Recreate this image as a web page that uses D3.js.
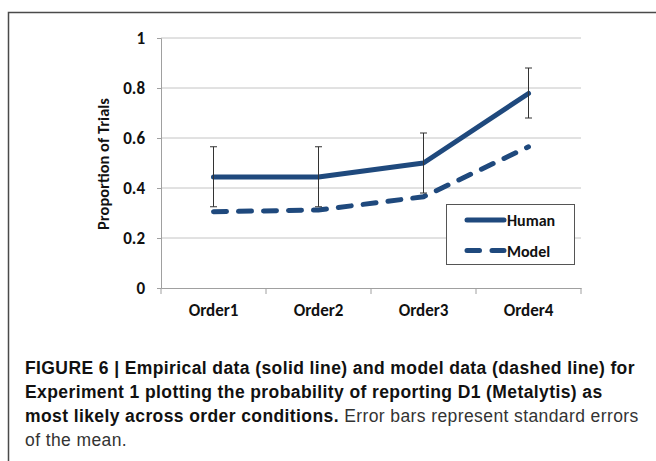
<!DOCTYPE html>
<html><head><meta charset="utf-8">
<script src="https://cdn.jsdelivr.net/npm/d3@7"></script>
<style>
html,body{margin:0;padding:0;background:#fff;}
svg{display:block;}
</style></head>
<body>
<svg id="c" width="656" height="461"></svg>
<script>
const categories = ["Order1","Order2","Order3","Order4"];
const human = [0.444, 0.444, 0.5, 0.778];
const humanLow = [0.325, 0.325, 0.38, 0.68];
const humanHigh = [0.565, 0.565, 0.62, 0.88];
const model = [0.305, 0.312, 0.365, 0.565];
const yTicks = [0, 0.2, 0.4, 0.6, 0.8, 1];
const seriesNames = ["Human","Model"];
const captionLines = [
  [{t:"FIGURE 6 | Empirical data (solid line) and model data (dashed line) for", b:true}],
  [{t:"Experiment 1 plotting the probability of reporting D1 (Metalytis) as", b:true}],
  [{t:"most likely across order conditions.", b:true},{t:" Error bars represent standard errors", b:false}],
  [{t:"of the mean.", b:false}]
];

const svg = d3.select("#c");
const color = "#1f497d";
const chartFont = "Carlito, Calibri, 'Open Sans', sans-serif";
const capFont = "'Liberation Sans', Arial, sans-serif";

// frame
svg.append("path").attr("d","M8.5,461 L8.5,12.5 L656,12.5").attr("fill","none").attr("stroke","#4a4a4a").attr("stroke-width",1.5);

const x = d3.scaleBand().domain(categories).range([161,581]);
const y = d3.scaleLinear().domain([0,1]).range([288,38]);

// gridlines
svg.append("g").selectAll("line").data(yTicks.filter(d=>d>0)).join("line")
  .attr("x1",161).attr("x2",581).attr("y1",d=>y(d)).attr("y2",d=>y(d))
  .attr("stroke","#c4c4c4").attr("stroke-width",1);

// y axis
const ya = svg.append("g").attr("transform","translate(161,0)")
  .call(d3.axisLeft(y).tickValues(yTicks).tickFormat(d3.format("")).tickSize(4).tickPadding(12));
ya.select(".domain").attr("stroke","#a0a0a0");
ya.selectAll(".tick line").attr("stroke","#a0a0a0");
ya.selectAll("text").attr("font-family",chartFont).attr("font-weight","bold").attr("font-size",17).attr("fill","#111");

// x axis
const xa = svg.append("g").attr("transform","translate(0,288)")
  .call(d3.axisBottom(x).tickSize(0).tickPadding(16));
xa.select(".domain").attr("stroke","#a0a0a0");
xa.selectAll("text").attr("font-family",chartFont).attr("font-weight","bold").attr("font-size",17).attr("fill","#111");
svg.append("g").selectAll("line").data(categories.concat(["_end"])).join("line")
  .attr("x1",(d,i)=>161+i*x.bandwidth()).attr("x2",(d,i)=>161+i*x.bandwidth())
  .attr("y1",288).attr("y2",294).attr("stroke","#a0a0a0");

// y title
svg.append("text").attr("transform","translate(109,164) rotate(-90)")
  .attr("text-anchor","middle").attr("font-family",chartFont).attr("font-weight","bold")
  .attr("font-size",16.5).attr("fill","#111").text("Proportion of Trials");

const cx = d => x(d)+x.bandwidth()/2;
const line = d3.line().x((d,i)=>cx(categories[i])).y(d=>y(d));

// model dashed
svg.append("path").datum(model).attr("d",line).attr("fill","none")
  .attr("stroke",color).attr("stroke-width",5).attr("stroke-dasharray","13,12").attr("stroke-linecap","round");
// human solid
svg.append("path").datum(human).attr("d",line).attr("fill","none")
  .attr("stroke",color).attr("stroke-width",5).attr("stroke-linejoin","round").attr("stroke-linecap","round");

// error bars
const eb = svg.append("g").attr("stroke","#333").attr("stroke-width",1);
categories.forEach((c,i)=>{
  const xc = cx(c);
  eb.append("line").attr("x1",xc).attr("x2",xc).attr("y1",y(humanLow[i])).attr("y2",y(humanHigh[i]));
  eb.append("line").attr("x1",xc-3.5).attr("x2",xc+3.5).attr("y1",y(humanLow[i])).attr("y2",y(humanLow[i]));
  eb.append("line").attr("x1",xc-3.5).attr("x2",xc+3.5).attr("y1",y(humanHigh[i])).attr("y2",y(humanHigh[i]));
});

// legend
const lg = svg.append("g");
lg.append("rect").attr("x",446.5).attr("y",204.5).attr("width",128).attr("height",60)
  .attr("fill","#fff").attr("stroke","#555").attr("stroke-width",1);
seriesNames.forEach((n,i)=>{
  const yy = 220 + i*30.5;
  lg.append("line").attr("x1",467).attr("x2",504).attr("y1",yy).attr("y2",yy)
    .attr("stroke",color).attr("stroke-width",5).attr("stroke-linecap","round")
    .attr("stroke-dasharray", i===1 ? "12.5,12.5" : null);
  lg.append("text").attr("x",507).attr("y",yy+6).attr("font-family",chartFont)
    .attr("font-weight","bold").attr("font-size",16).attr("fill","#111").text(n);
});

// caption
const cap = svg.append("g");
captionLines.forEach((ln,i)=>{
  const t = cap.append("text").attr("x",25).attr("y",374+i*24)
    .attr("font-family",capFont).attr("font-size",17.5).attr("letter-spacing",0.4).attr("fill","#111");
  ln.forEach(s=>{
    t.append("tspan").attr("font-weight",s.b?"bold":"normal")
      .attr("fill",s.b?"#111":"#333").text(s.t);
  });
});
</script>
</body></html>
